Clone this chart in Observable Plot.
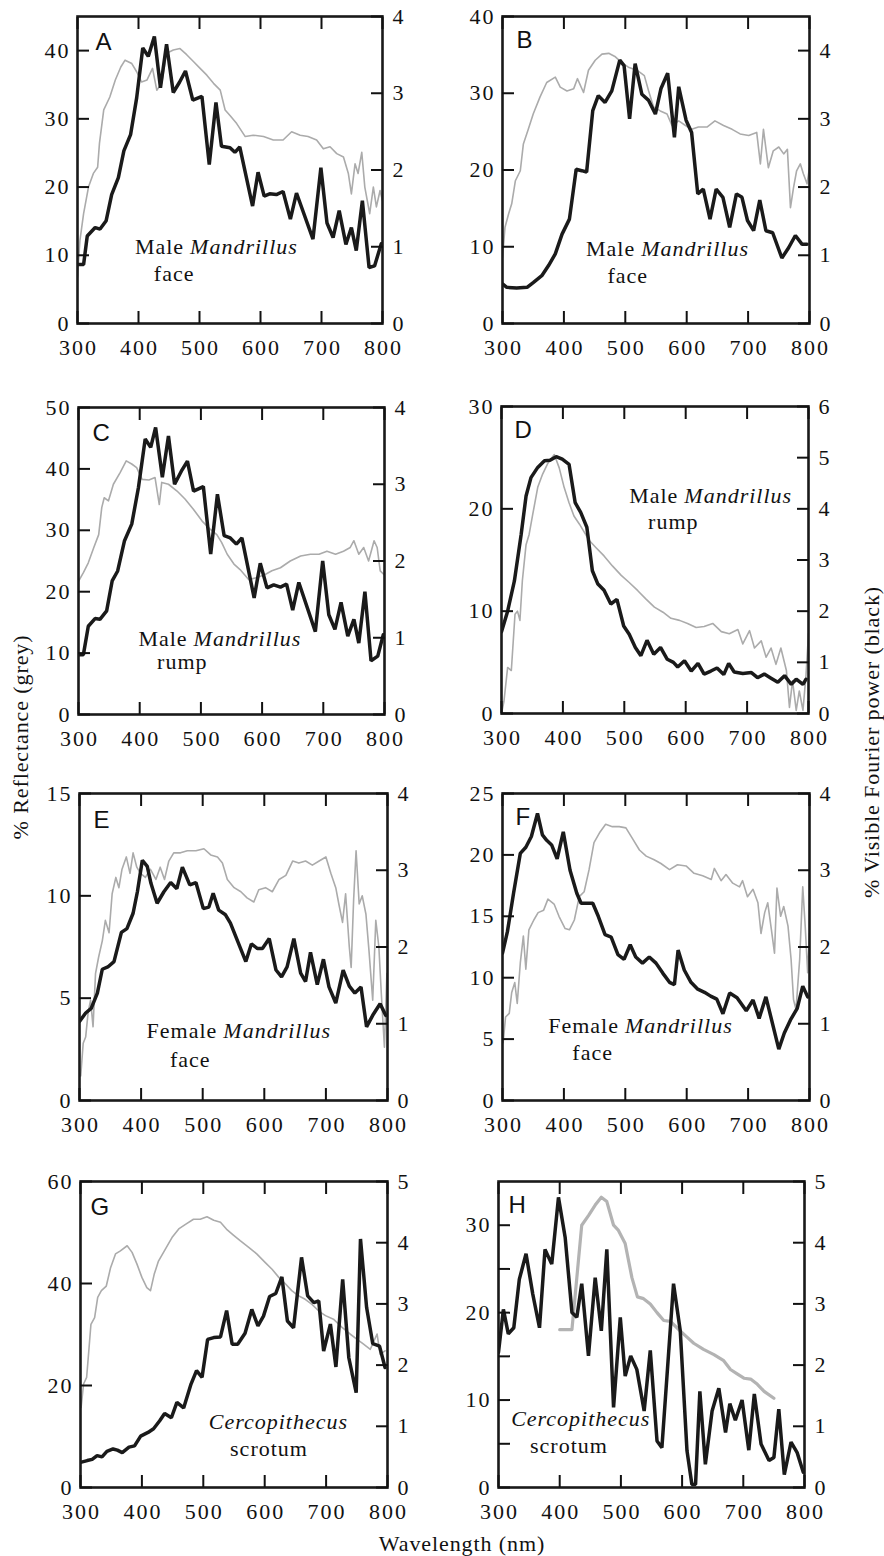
<!DOCTYPE html>
<html><head><meta charset="utf-8">
<script src="https://cdn.jsdelivr.net/npm/d3@7"></script>
<script src="https://cdn.jsdelivr.net/npm/@observablehq/plot@0.6"></script>
<style>
html,body{margin:0;padding:0;background:#fff;}
#page{position:relative;width:884px;height:1556px;overflow:hidden;font-family:"Liberation Serif","Times New Roman",serif;color:#111;background:#fff;}
.panel{position:absolute;}
.panel svg g[aria-label="text"] text{letter-spacing:1px;}
.lab{position:absolute;font-size:22px;white-space:nowrap;letter-spacing:0.9px;transform:translate(-50%,-50%);}
.rot{transform:translate(-50%,-50%) rotate(-90deg);}
</style></head><body><div id="page"></div>
<script>
// ---------------- data ----------------
const wavelengthTicks = [300, 400, 500, 600, 700, 800];

// [wavelength nm, % reflectance]  (grey)   /  [wavelength nm, % visible Fourier power] (black)
const A_grey = [[300,6.8],[304,12.2],[310,16.1],[318,20.0],[326,22.0],[333,22.9],[336,26.4],[343,31.3],[353,33.2],[362,35.7],[371,37.6],[378,38.6],[389,38.1],[397,36.9],[405,35.4],[414,35.7],[423,37.4],[430,34.2],[438,35.2],[446,39.6],[457,40.1],[468,40.3],[479,39.4],[490,38.4],[501,37.4],[512,36.4],[523,35.2],[534,34.2],[542,31.3],[550,30.5],[561,29.3],[575,27.4],[588,27.6],[605,27.4],[621,26.9],[637,26.9],[651,28.1],[665,27.6],[678,27.4],[692,26.9],[703,25.6],[714,25.9],[725,24.9],[736,24.4],[744,22.0],[749,19.0],[755,23.4],[760,22.0],[766,25.1],[771,20.0],[779,16.1],[785,20.0],[790,17.1],[796,19.5],[800,18.0]];
const A_black = [[300,0.77],[310,0.77],[316,1.14],[329,1.25],[337,1.23],[347,1.34],[356,1.68],[367,1.90],[376,2.25],[387,2.46],[397,2.94],[407,3.59],[416,3.48],[426,3.74],[436,3.07],[446,3.64],[457,3.01],[467,3.14],[477,3.29],[489,2.91],[504,2.96],[516,2.07],[527,2.88],[536,2.31],[550,2.29],[558,2.23],[566,2.30],[587,1.53],[596,1.97],[606,1.66],[615,1.69],[626,1.68],[637,1.72],[649,1.36],[659,1.70],[686,1.10],[699,2.03],[709,1.31],[719,1.12],[729,1.47],[740,1.03],[749,1.25],[757,0.95],[767,1.60],[778,0.73],[787,0.75],[798,1.04]];

const B_grey = [[300,8.6],[304,12.5],[310,14.3],[315,15.6],[321,18.6],[329,19.9],[334,23.4],[342,25.3],[350,27.3],[361,29.5],[372,31.4],[386,32.1],[394,30.8],[405,30.3],[416,30.6],[422,31.9],[432,30.1],[440,33.0],[451,34.3],[462,35.1],[473,35.2],[483,34.8],[494,34.0],[505,33.4],[519,33.0],[531,32.3],[538,30.3],[546,28.2],[557,27.7],[568,27.3],[576,25.8],[587,26.4],[598,25.8],[608,25.3],[619,25.6],[633,25.6],[646,26.4],[660,25.8],[674,25.3],[687,24.7],[701,24.5],[714,24.9],[720,20.8],[725,25.3],[733,20.3],[741,22.5],[750,23.0],[758,22.1],[764,22.7],[769,15.1],[774,17.7],[779,19.9],[785,20.8],[790,19.5],[796,18.2],[800,20.3]];
const B_black = [[300,0.58],[307,0.53],[323,0.52],[340,0.53],[350,0.60],[364,0.70],[375,0.85],[386,1.02],[397,1.31],[409,1.53],[420,2.26],[429,2.24],[437,2.22],[447,3.12],[456,3.34],[467,3.24],[478,3.41],[491,3.86],[498,3.78],[507,3.00],[516,3.81],[527,3.36],[538,3.27],[549,3.07],[558,3.44],[569,3.67],[580,2.73],[587,3.47],[599,2.98],[608,2.80],[618,1.90],[627,1.97],[638,1.53],[648,1.97],[659,1.85],[670,1.41],[681,1.90],[690,1.85],[699,1.51],[709,1.36],[719,1.81],[729,1.36],[740,1.33],[755,0.96],[766,1.11],[777,1.29],[788,1.16],[796,1.16]];

const C_grey = [[300,21.7],[308,23.1],[316,24.7],[325,27.2],[333,29.3],[338,33.7],[342,35.3],[349,34.8],[357,37.5],[368,39.4],[378,41.3],[387,40.8],[395,40.2],[404,38.3],[415,38.2],[425,38.6],[432,34.2],[436,37.8],[447,37.5],[461,36.4],[474,35.1],[488,33.4],[502,31.5],[515,30.2],[526,29.3],[534,28.0],[543,26.1],[554,24.5],[564,23.6],[578,22.0],[592,22.3],[605,22.8],[616,23.4],[630,23.9],[646,25.0],[663,25.8],[679,26.1],[693,26.1],[706,26.6],[720,26.1],[733,26.6],[744,27.2],[750,28.3],[758,26.1],[766,27.2],[774,25.0],[783,28.3],[788,27.2],[793,23.4],[799,22.8]];
const C_black = [[300,0.78],[308,0.78],[316,1.15],[327,1.25],[335,1.24],[346,1.35],[355,1.74],[364,1.87],[375,2.26],[387,2.48],[398,2.96],[409,3.59],[418,3.48],[426,3.74],[437,3.09],[447,3.63],[457,3.00],[468,3.17],[478,3.30],[488,2.91],[504,2.97],[516,2.09],[527,2.87],[538,2.33],[548,2.30],[558,2.22],[567,2.30],[587,1.52],[597,1.97],[608,1.65],[619,1.69],[630,1.66],[640,1.70],[650,1.36],[660,1.72],[687,1.08],[699,2.00],[709,1.30],[719,1.11],[729,1.46],[740,1.02],[750,1.24],[758,0.93],[768,1.60],[778,0.70],[789,0.76],[798,1.04]];

const D_grey = [[300,0.0],[304,1.2],[310,4.5],[316,4.2],[322,9.7],[326,10.0],[330,9.1],[334,13.0],[340,16.5],[345,17.5],[351,19.5],[359,22.1],[367,23.4],[375,24.4],[386,25.3],[394,24.0],[402,22.1],[410,20.6],[418,19.3],[427,18.5],[435,17.7],[443,16.9],[454,16.2],[467,15.4],[481,14.4],[495,13.5],[508,12.8],[522,12.0],[535,11.2],[549,10.4],[563,9.9],[576,9.3],[590,9.1],[603,8.8],[617,8.4],[630,8.5],[644,8.8],[658,8.0],[671,7.8],[685,8.2],[693,6.8],[704,8.1],[712,6.4],[723,7.1],[731,5.5],[739,6.4],[747,4.8],[755,6.4],[764,4.2],[769,0.6],[774,3.2],[780,0.3],[785,2.2],[791,0.3],[796,3.8],[800,7.8]];
const D_black = [[300,1.60],[310,2.00],[321,2.59],[332,3.50],[340,4.25],[348,4.61],[359,4.81],[370,4.94],[379,4.95],[389,5.02],[399,4.97],[410,4.87],[420,4.12],[429,3.93],[439,3.64],[448,2.79],[457,2.53],[467,2.41],[478,2.14],[488,2.23],[499,1.71],[508,1.55],[518,1.29],[527,1.13],[537,1.43],[548,1.16],[559,1.29],[570,1.06],[580,1.00],[587,0.91],[598,1.03],[609,0.83],[620,0.98],[630,0.77],[641,0.83],[651,0.89],[662,0.76],[670,0.98],[679,0.81],[693,0.78],[707,0.80],[717,0.70],[728,0.77],[739,0.69],[750,0.61],[761,0.74],[772,0.57],[780,0.67],[791,0.57],[796,0.67]];

const E_grey = [[302,1.2],[306,2.8],[310,3.1],[314,4.3],[318,4.9],[322,3.6],[326,6.2],[331,7.0],[337,7.8],[342,8.8],[348,8.2],[353,10.1],[359,10.9],[364,10.4],[369,11.3],[376,11.9],[382,11.1],[387,12.1],[393,11.4],[399,11.1],[407,10.9],[415,11.3],[424,10.8],[431,11.4],[438,10.8],[445,11.7],[453,12.1],[464,12.1],[475,12.2],[489,12.2],[502,12.3],[513,12.0],[524,11.9],[532,11.6],[540,10.8],[551,10.4],[562,10.2],[572,9.9],[583,9.7],[591,10.3],[602,10.4],[613,10.2],[624,10.8],[635,11.0],[646,11.7],[656,11.6],[667,11.7],[678,11.5],[689,11.7],[700,11.9],[708,11.1],[716,10.4],[721,9.6],[727,8.7],[732,10.1],[738,7.5],[741,6.5],[745,9.8],[749,12.2],[754,9.6],[759,10.0],[765,9.1],[770,7.3],[776,4.9],[781,8.8],[786,7.5],[790,5.2],[795,2.6],[799,6.2]];
const E_black = [[300,1.03],[310,1.14],[319,1.20],[329,1.40],[337,1.71],[346,1.74],[356,1.81],[368,2.19],[377,2.24],[387,2.44],[394,2.72],[402,3.13],[410,3.05],[416,2.83],[426,2.57],[437,2.72],[448,2.84],[458,2.76],[467,3.04],[479,2.81],[489,2.84],[501,2.50],[510,2.52],[517,2.70],[526,2.48],[537,2.42],[545,2.31],[557,2.07],[570,1.81],[579,2.04],[589,1.98],[597,1.98],[608,2.11],[619,1.70],[628,1.61],[637,1.74],[648,2.11],[659,1.66],[667,1.55],[675,1.93],[686,1.51],[696,1.84],[705,1.48],[716,1.27],[728,1.70],[738,1.49],[747,1.40],[757,1.48],[766,0.96],[776,1.11],[788,1.26],[797,1.11]];

const F_grey = [[301,4.7],[305,6.8],[311,7.1],[315,8.8],[320,9.6],[324,7.9],[329,11.2],[334,13.4],[338,10.7],[343,13.9],[351,14.7],[358,15.3],[367,15.5],[374,16.4],[384,16.0],[392,15.0],[402,14.0],[409,13.9],[417,14.7],[425,16.6],[433,17.0],[441,18.8],[449,21.0],[458,21.8],[468,22.5],[479,22.3],[490,22.3],[501,22.2],[512,21.3],[523,20.4],[534,19.9],[547,19.6],[558,19.3],[572,18.8],[585,19.2],[599,19.1],[612,18.5],[626,18.3],[640,18.0],[645,18.9],[656,17.9],[664,18.4],[675,17.7],[686,17.4],[691,17.9],[699,16.6],[708,17.2],[716,16.1],[721,13.6],[727,15.3],[732,16.1],[738,13.9],[743,12.0],[747,17.3],[753,15.0],[758,15.8],[765,14.2],[770,11.5],[774,8.2],[778,7.4],[784,11.5],[789,17.4],[793,14.2],[797,10.4],[800,13.6]];
const F_black = [[300,1.92],[308,2.20],[318,2.70],[329,3.22],[338,3.30],[347,3.44],[357,3.74],[365,3.46],[372,3.39],[380,3.33],[389,3.15],[399,3.50],[410,3.00],[421,2.70],[428,2.57],[447,2.57],[456,2.40],[467,2.16],[477,2.13],[488,1.90],[498,1.84],[508,2.03],[517,1.87],[528,1.79],[539,1.87],[550,1.79],[561,1.66],[572,1.54],[580,1.51],[586,1.96],[596,1.70],[607,1.54],[618,1.45],[629,1.41],[639,1.36],[649,1.32],[659,1.13],[670,1.40],[682,1.34],[697,1.17],[708,1.31],[718,1.07],[729,1.35],[750,0.67],[759,0.88],[769,1.05],[780,1.20],[789,1.49],[797,1.35]];

const G_grey = [[301,15.7],[305,20.3],[310,21.6],[314,27.5],[317,32.0],[323,33.3],[328,37.3],[334,38.6],[342,39.5],[349,43.1],[357,45.8],[365,46.4],[376,47.4],[384,46.1],[392,43.8],[400,41.2],[408,39.2],[414,38.6],[420,41.8],[427,44.4],[438,46.7],[449,49.0],[460,50.7],[471,51.6],[484,52.6],[495,52.6],[506,53.1],[517,52.4],[528,52.0],[539,50.5],[549,49.5],[560,48.4],[574,47.1],[587,45.8],[601,44.1],[612,42.8],[623,41.2],[634,39.9],[644,38.6],[655,37.6],[666,36.9],[677,35.9],[688,34.6],[699,33.7],[712,33.0],[726,31.4],[739,30.1],[750,29.1],[761,28.1],[772,27.1],[783,30.1],[788,26.1],[796,26.8]];
const G_black = [[300,0.41],[311,0.44],[319,0.46],[327,0.52],[335,0.50],[343,0.59],[353,0.63],[360,0.61],[368,0.57],[379,0.66],[388,0.68],[398,0.84],[410,0.90],[419,0.96],[429,1.09],[437,1.21],[448,1.14],[457,1.39],[468,1.30],[480,1.69],[489,1.91],[498,1.80],[507,2.42],[517,2.45],[528,2.46],[538,2.89],[547,2.34],[556,2.34],[568,2.52],[579,2.91],[589,2.64],[598,2.80],[608,3.12],[618,3.17],[628,3.44],[637,2.72],[647,2.61],[660,3.76],[670,3.13],[680,3.02],[688,3.05],[696,2.23],[707,2.67],[716,1.97],[727,3.40],[737,2.12],[749,1.55],[756,4.06],[766,2.94],[776,2.35],[787,2.31],[796,1.96]];

const H_grey = [[400,18.05],[420,18.05],[428,24.0],[436,30.0],[447,31.1],[458,32.3],[468,33.2],[477,32.7],[488,30.0],[496,29.4],[507,27.9],[518,24.0],[527,21.8],[537,21.6],[548,21.0],[559,20.0],[570,19.1],[581,19.0],[597,17.9],[608,17.2],[619,16.5],[635,15.8],[652,15.2],[668,14.5],[679,13.5],[690,13.0],[701,12.5],[712,12.4],[723,11.8],[734,11.0],[750,10.2]];
const H_black = [[300,2.21],[308,2.91],[316,2.51],[325,2.61],[334,3.40],[345,3.82],[356,3.16],[367,2.61],[376,3.89],[387,3.65],[398,4.74],[409,4.08],[420,2.86],[428,2.78],[436,3.33],[447,2.15],[458,3.43],[468,2.56],[477,3.89],[488,1.31],[499,2.78],[507,1.82],[516,2.15],[526,1.93],[538,1.25],[548,2.24],[559,0.76],[567,0.65],[586,3.33],[597,2.56],[608,0.60],[616,0.05],[622,0.05],[629,1.57],[638,0.38],[649,1.25],[660,1.62],[671,0.90],[678,1.37],[687,1.10],[698,1.43],[709,0.61],[718,1.53],[729,0.71],[742,0.44],[750,0.49],[758,1.28],[767,0.21],[778,0.74],[788,0.57],[798,0.25]];

// axis tick values
const A_left = [0,10,20,30,40], B_left = [0,10,20,30,40], C_left = [0,10,20,30,40,50], D_left = [0,10,20,30];
const E_left = [0,5,10,15], F_left = [0,5,10,15,20,25], G_left = [0,20,40,60];
const H_leftMarks = [0,5,10,15,20,25,30], H_leftLabels = [0,10,20,30];
const right4 = [0,1,2,3,4], right5 = [0,1,2,3,4,5], right6 = [0,1,2,3,4,5,6];

// annotation texts
const maleMand = ["Male", "Mandrillus"], femaleMand = ["Female", "Mandrillus"];

// ---------------- layout ----------------
const panels = [
  {id:"A", grey:A_grey, black:A_black, leftMax:45, leftMarks:A_left, leftLabels:A_left, rightMax:4, right:right4,
   frame:[77.3,15.7,382.7,322.7], letter:[18,16],
   notes:[{t:maleMand[0],x:484.6,y:10.2,a:"end",dx:-6},{t:maleMand[1],x:484.6,y:10.2,a:"start",it:true},{t:"face",x:458.5,y:6.26,a:"middle"}]},
  {id:"B", grey:B_grey, black:B_black, leftMax:40, leftMarks:B_left, leftLabels:B_left, rightMax:4.5, right:right4,
   frame:[502.3,15.7,809.3,322.7], letter:[14,14],
   notes:[{t:maleMand[0],x:525.9,y:8.82,a:"end",dx:-6},{t:maleMand[1],x:525.9,y:8.82,a:"start",it:true},{t:"face",x:503.9,y:5.34,a:"middle"}]},
  {id:"C", grey:C_grey, black:C_black, leftMax:50, leftMarks:C_left, leftLabels:C_left, rightMax:4, right:right4,
   frame:[78.3,406.7,384,713.3], letter:[14,16],
   notes:[{t:maleMand[0],x:488.1,y:11.14,a:"end",dx:-6},{t:maleMand[1],x:488.1,y:11.14,a:"start",it:true},{t:"rump",x:469.6,y:7.34,a:"middle"}]},
  {id:"D", grey:D_grey, black:D_black, leftMax:30, leftMarks:D_left, leftLabels:D_left, rightMax:6, right:right6,
   frame:[500.7,405.7,807.3,712.7], letter:[13,14],
   notes:[{t:maleMand[0],x:597.8,y:20.6,a:"end",dx:-6},{t:maleMand[1],x:597.8,y:20.6,a:"start",it:true},{t:"rump",x:579.8,y:18.0,a:"middle"}]},
  {id:"E", grey:E_grey, black:E_black, leftMax:15, leftMarks:E_left, leftLabels:E_left, rightMax:4, right:right4,
   frame:[79,793.3,386.7,1100.7], letter:[14,17],
   notes:[{t:femaleMand[0],x:533.5,y:3.05,a:"end",dx:-6},{t:femaleMand[1],x:533.5,y:3.05,a:"start",it:true},{t:"face",x:479.9,y:1.66,a:"middle"}]},
  {id:"F", grey:F_grey, black:F_black, leftMax:25, leftMarks:F_left, leftLabels:F_left, rightMax:4, right:right4,
   frame:[501.7,793.3,808.3,1100.7], letter:[13,14],
   notes:[{t:femaleMand[0],x:499.4,y:5.48,a:"end",dx:-6},{t:femaleMand[1],x:499.4,y:5.48,a:"start",it:true},{t:"face",x:446.8,y:3.31,a:"middle"}]},
  {id:"G", grey:G_grey, black:G_black, leftMax:60, leftMarks:G_left, leftLabels:G_left, rightMax:5, right:right5,
   frame:[80,1180.7,387.3,1486.7], letter:[10,16],
   notes:[{t:"Cercopithecus",x:622.2,y:11.45,a:"middle",it:true},{t:"scrotum",x:607,y:6.2,a:"middle"}]},
  {id:"H", grey:H_grey, black:H_black, leftMax:35, leftMarks:H_leftMarks, leftLabels:H_leftLabels, rightMax:5, right:right5,
   frame:[498.3,1180.7,804,1486.7], letter:[10,14], greyWidth:3.2, greyColor:"#b3b3b3",
   notes:[{t:"Cercopithecus",x:434.4,y:7.07,a:"middle",it:true},{t:"scrotum",x:415.1,y:3.89,a:"middle"}]}
];

const page = document.getElementById("page");
const mL = 64, mR = 50, mT = 24, mB = 48;

for (const p of panels) {
  const [L, T, R, B] = p.frame;
  const w = Math.round(R - L), h = Math.round(B - T);
  const k = p.leftMax / p.rightMax;
  const svg = Plot.plot({
    width: w + mL + mR, height: h + mT + mB,
    marginLeft: mL, marginRight: mR, marginTop: mT, marginBottom: mB,
    x: {domain: [300, 800]},
    y: {domain: [0, p.leftMax]},
    style: {fontFamily: "'Liberation Serif', 'Times New Roman', serif", fontSize: "22px", color: "#111", background: "transparent", overflow: "visible", letterSpacing: "2px"},
    marks: [
      Plot.line(p.grey, {x: d => d[0], y: d => d[1], stroke: p.greyColor || "#ababab", strokeWidth: p.greyWidth || 1.6, clip: true}),
      Plot.line(p.black, {x: d => d[0], y: d => d[1] * k, stroke: "#1a1a1a", strokeWidth: 3.5, strokeLinejoin: "miter", clip: true}),
      Plot.frame({stroke: "#1a1a1a", strokeWidth: 2.6}),
      Plot.axisX(wavelengthTicks, {anchor: "bottom", tickSize: -12, strokeWidth: 2, fill: "none", label: null}),
      Plot.axisX(wavelengthTicks, {anchor: "top", tickSize: -12, strokeWidth: 2, fill: "none", label: null}),
      Plot.axisX(wavelengthTicks, {anchor: "bottom", tickSize: 0, tickPadding: 16, dx: 1, label: null, tickFormat: d => String(d)}),
      Plot.axisY(p.leftMarks, {anchor: "left", tickSize: -12, strokeWidth: 2, fill: "none", label: null}),
      Plot.axisY(p.leftLabels, {anchor: "left", tickSize: 0, tickPadding: 7, label: null, tickFormat: d => String(d)}),
      Plot.axisY(p.right, {anchor: "right", y: d => d * k, tickSize: -12, strokeWidth: 2, fill: "none", label: null}),
      Plot.axisY(p.right, {anchor: "right", y: d => d * k, tickSize: 0, tickPadding: 10, label: null, tickFormat: d => String(d)}),
      Plot.text([p.id], {frameAnchor: "top-left", text: d => d, dx: p.letter[0], dy: p.letter[1], fontFamily: "'Liberation Sans', Arial, sans-serif", fontSize: 24, lineAnchor: "top", textAnchor: "start"}),
      ...p.notes.map(n => Plot.text([n], {x: "x", y: "y", text: "t", textAnchor: n.a, dx: n.dx || 0, fontSize: 22, fontStyle: n.it ? "italic" : "normal", lineAnchor: "bottom"}))
    ]
  });
  const div = document.createElement("div");
  div.className = "panel";
  div.style.left = (L - mL) + "px";
  div.style.top = (T - mT) + "px";
  div.appendChild(svg);
  page.appendChild(div);
}

function addLabel(text, x, y, rotate) {
  const d = document.createElement("div");
  d.className = "lab" + (rotate ? " rot" : "");
  d.style.left = x + "px";
  d.style.top = y + "px";
  d.textContent = text;
  page.appendChild(d);
}
addLabel("% Reflectance (grey)", 21, 737, true);
addLabel("% Visible Fourier power (black)", 872, 742, true);
addLabel("Wavelength (nm)", 462, 1544, false);
</script>
</body></html>
